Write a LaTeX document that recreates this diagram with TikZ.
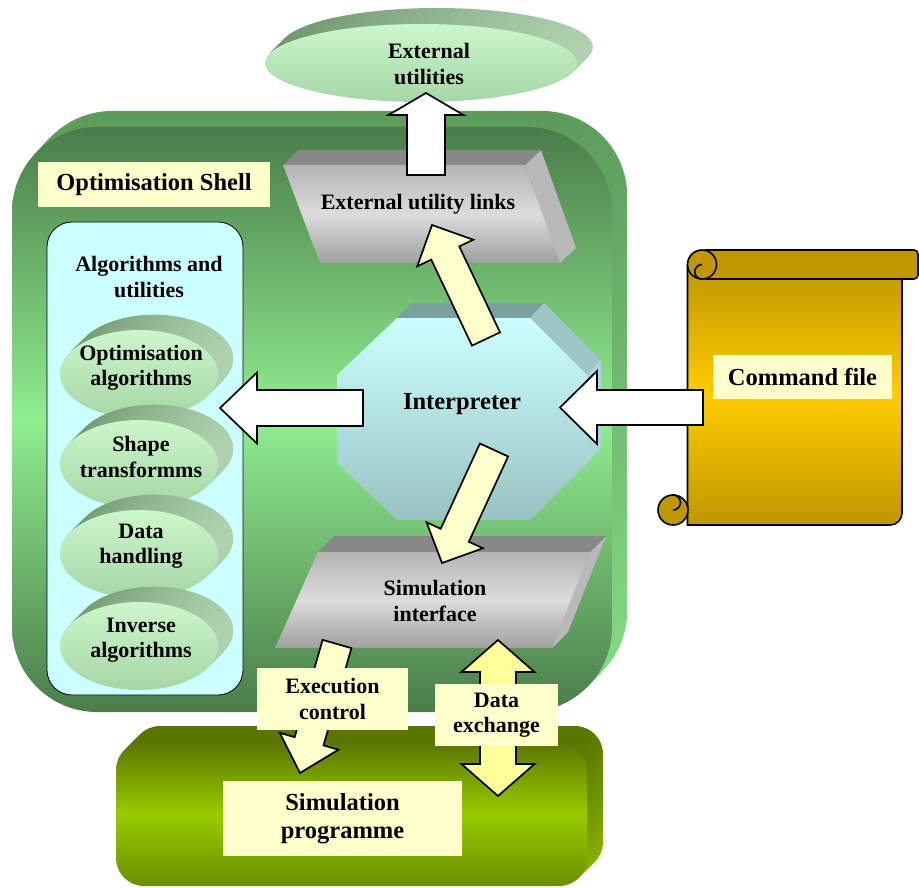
\documentclass[tikz,border=0pt]{standalone}
\usepackage{fontspec}
\setmainfont{Liberation Serif}
\usetikzlibrary{calc}

\definecolor{tagyellow}{HTML}{FFFFCC}
\definecolor{lemon}{HTML}{FFFF99}
\definecolor{shelldark}{HTML}{4A7C4A}
\definecolor{shelllight}{HTML}{90EE90}
\definecolor{shellbacktop}{HTML}{5E9C5E}
\definecolor{shellback}{HTML}{86DE86}
\definecolor{panelcyan}{HTML}{CCFFFF}
\definecolor{ovaltop}{HTML}{CCF7CC}
\definecolor{ovalbottom}{HTML}{A6D6A6}
\definecolor{ovalback}{HTML}{6F966F}
\definecolor{ovalside}{HTML}{B0D2B0}
\definecolor{graytop}{HTML}{888888}
\definecolor{grayside}{HTML}{B9B9B9}
\definecolor{grayone}{HTML}{B4B4B4}
\definecolor{graytwo}{HTML}{DCDCDC}
\definecolor{graythree}{HTML}{A0A0A0}
\definecolor{octtop}{HTML}{7AA0A0}
\definecolor{octcorner}{HTML}{9FC6C6}
\definecolor{octside}{HTML}{ADD6D6}
\definecolor{octlow}{HTML}{99C2C2}
\definecolor{goldone}{HTML}{BF9700}
\definecolor{goldtwo}{HTML}{FFCC00}
\definecolor{progtop}{HTML}{5A7500}
\definecolor{progside}{HTML}{8CB800}
\definecolor{progmid}{HTML}{99CC00}
\definecolor{proglow}{HTML}{6B8E00}

\newcommand{\blockarrow}[6]{%
  \draw[#1] let \p1=($(#3)-(#2)$), \n1={atan2(\y1,\x1)}, \n2={veclen(\x1,\y1)} in
    [shift={(#2)}, rotate=\n1]
    (0pt,-#4pt) -- ({\n2-#6pt},-#4pt) -- ({\n2-#6pt},-#5pt) -- (\n2,0pt)
    -- ({\n2-#6pt},#5pt) -- ({\n2-#6pt},#4pt) -- (0pt,#4pt) -- cycle;}
\newcommand{\twowayarrow}[6]{%
  \draw[#1] let \p1=($(#3)-(#2)$), \n1={atan2(\y1,\x1)}, \n2={veclen(\x1,\y1)} in
    [shift={(#2)}, rotate=\n1]
    (0pt,0pt) -- (#6pt,-#5pt) -- (#6pt,-#4pt) -- ({\n2-#6pt},-#4pt) -- ({\n2-#6pt},-#5pt) -- (\n2,0pt)
    -- ({\n2-#6pt},#5pt) -- ({\n2-#6pt},#4pt) -- (#6pt,#4pt) -- (#6pt,#5pt) -- cycle;}

\begin{document}
\begin{tikzpicture}[x=1pt,y=-1pt,
    bigtxt/.style={font=\fontsize{24.5}{28}\selectfont\bfseries,align=center,inner sep=0pt},
    smalltxt/.style={font=\fontsize{22}{25.5}\selectfont\bfseries,align=center,inner sep=0pt},
    tagbox/.style={fill=tagyellow,inner sep=0pt},
    whitearrow/.style={draw=black,fill=white,line width=1.7pt},
    creamarrow/.style={draw=black,fill=tagyellow,line width=1.7pt},
    lemonarrow/.style={draw=black,fill=lemon,line width=1.7pt},
    scrollline/.style={draw=black,line width=1.6pt}]
  \useasboundingbox (0,0) rectangle (919,888);

  \foreach \k in {16,15,...,1}
    \shade[left color=ovalback, right color=ovalside] ({421+\k},{63-\k}) ellipse [x radius=156pt, y radius=39pt];
  \shade[top color=ovaltop, bottom color=ovalbottom] (421,63) ellipse [x radius=156pt, y radius=39pt];
  \node[smalltxt] (extutil) at (429,64) {External\\utilities};

  \foreach \k in {16,15,...,1}
    \shade[top color=progtop, bottom color=progside, rounded corners=28pt] ({116+\k},{742-\k}) rectangle ({587+\k},{886-\k});
  \shade[top color=progtop, bottom color=proglow, middle color=progmid, rounded corners=28pt] (116,742) rectangle (587,886);

  \foreach \k in {16,15,...,1}
    \shade[top color=shellbacktop, bottom color=shellback, rounded corners=85pt] ({12+0.95*\k},{127-\k}) rectangle ({612+0.95*\k},{712-\k});
  \shade[top color=shelldark, bottom color=shelldark, middle color=shelllight, rounded corners=85pt] (12,127) rectangle (612,712);
  \node[tagbox, bigtxt, minimum width=232pt, minimum height=45pt] (shelltag) at (154,184.5) {Optimisation Shell};

  \node[draw=black, line width=0.8pt, fill=panelcyan, rounded corners=25pt, minimum width=196pt, minimum height=473pt] (algpanel) at (145,458.5) {};
  \node[smalltxt] (algtitle) at (149,277) {Algorithms and\\utilities};
  \foreach \cy/\ty/\nm/\txt in {374/368/optalg/{Optimisation\\algorithms}, 464/457/shapetr/{Shape\\transformms},
      554/546/datah/{Data\\handling}, 646/640/invalg/{Inverse\\algorithms}}{
    \foreach \k in {17,16,...,1}
      \shade[left color=ovalback, right color=ovalside] ({139+0.9*\k},{\cy-0.9*\k}) ellipse [x radius=79pt, y radius=44pt];
    \shade[top color=ovaltop, bottom color=ovalbottom] (139,\cy) ellipse [x radius=79pt, y radius=44pt];
    \node[smalltxt] (\nm) at (141,\ty) {\txt};
  }

  \fill[grayside] (525,165) -- (541,150) -- (576,248) -- (560,263) -- cycle;
  \fill[graytop] (283,165) -- (299,150) -- (541,150) -- (525,165) -- cycle;
  \shade[top color=grayone, bottom color=graythree, middle color=graytwo] (283,165) -- (525,165) -- (560,263) -- (320,263) -- cycle;
  \node[smalltxt] (extlinks) at (418,204) {External utility links};

  \coordinate (linkout) at (426,175);
  \coordinate (utilin) at (426,93);
  \blockarrow{whitearrow}{linkout}{utilin}{19}{37.5}{22}

  \fill[octtop] (397,318) -- (411,303) -- (544,303) -- (530,318) -- cycle;
  \fill[octcorner] (530,318) -- (544,303) -- (601,360) -- (587,375) -- cycle;
  \fill[octside] (587,375) -- (601,360) -- (601,448) -- (587,463) -- cycle;
  \shade[top color=panelcyan, bottom color=octlow] (397,318) -- (530,318) -- (587,375) -- (587,463) -- (530,520) -- (397,520) -- (337,463) -- (337,375) -- cycle;
  \node[bigtxt] (interp) at (462,404) {Interpreter};

  \coordinate (interpnw) at (486,339);
  \coordinate (linksin) at (432,225);
  \blockarrow{creamarrow}{interpnw}{linksin}{15.5}{31}{31}

  \fill[grayside] (590,552) -- (606,536) -- (568,632) -- (552,648) -- cycle;
  \fill[graytop] (318,552) -- (334,536) -- (606,536) -- (590,552) -- cycle;
  \shade[top color=grayone, bottom color=graythree, middle color=graytwo] (318,552) -- (590,552) -- (552,648) -- (275,648) -- cycle;
  \node[smalltxt] (simif) at (435,601) {Simulation\\interface};

  \coordinate (interpsw) at (494,450);
  \coordinate (simifin) at (442,563);
  \blockarrow{creamarrow}{interpsw}{simifin}{15.5}{31}{30.5}

  \coordinate (interpw) at (363,408);
  \coordinate (algin) at (220,408);
  \blockarrow{whitearrow}{interpw}{algin}{18}{35.5}{37}

  \shade[scrollline, top color=goldone, bottom color=goldone, middle color=goldtwo] (687.5,265) -- (687.5,525) -- (890,525) arc[start angle=90, end angle=0, radius=12] -- (902,265) -- cycle;
  \draw[scrollline, fill=goldone] (673,510) circle [radius=15pt];
  \draw[scrollline] (673,495) arc[start angle=-90, end angle=90, radius=7.5];
  \draw[scrollline, fill=goldone, rounded corners=4pt] (702,250) rectangle (918,279);
  \draw[scrollline, fill=goldone] (702,264.5) circle [radius=14.5pt];
  \draw[scrollline] (702,264.5) arc[start angle=-90, end angle=-270, radius=7.25];

  \coordinate (cmdout) at (703,407.5);
  \coordinate (interpin) at (560,407.5);
  \blockarrow{whitearrow}{cmdout}{interpin}{17.5}{36.5}{37}
  \node[tagbox, bigtxt, minimum width=179pt, minimum height=44pt] (cmdfile) at (802.5,377) {Command file};

  \coordinate (simifout) at (337,644);
  \coordinate (progin) at (300,773);
  \blockarrow{creamarrow}{simifout}{progin}{15}{30.5}{33}
  \coordinate (simifio) at (498,640);
  \coordinate (progio) at (498,796);
  \twowayarrow{lemonarrow}{simifio}{progio}{18}{36.5}{32}

  \node[tagbox, smalltxt, minimum width=151pt, minimum height=62pt] (execctl) at (332.5,699) {Execution\\control};
  \node[tagbox, smalltxt, minimum width=123pt, minimum height=62pt] (dataex) at (496.5,715) {Data\\exchange};
  \node[tagbox, bigtxt, minimum width=239pt, minimum height=75pt] (simprog) at (342.5,818.5) {Simulation\\programme};
\end{tikzpicture}
\end{document}
